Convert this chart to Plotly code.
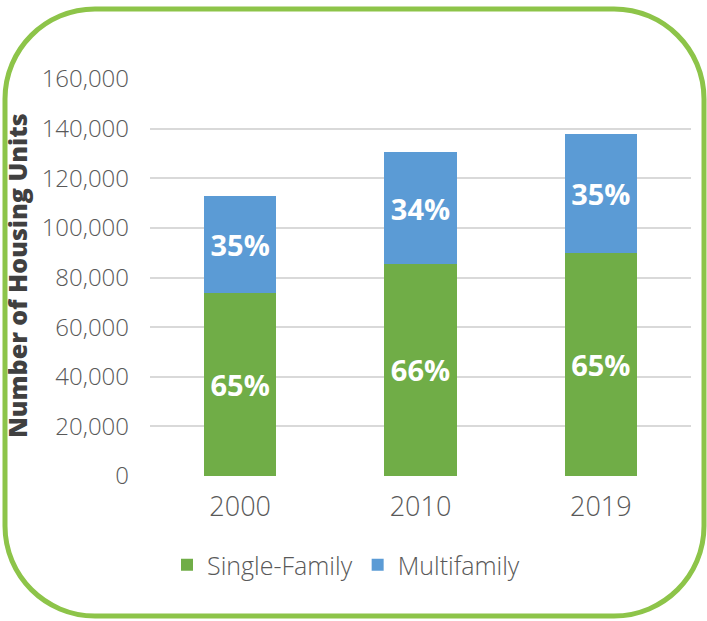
import plotly.graph_objects as go

# data
years = ["2000", "2010", "2019"]
single_family = [73700, 85500, 89800]
multifamily = [39200, 44900, 48200]
y_ticks = [0, 20000, 40000, 60000, 80000, 100000, 120000, 140000, 160000]

totals = [s + m for s, m in zip(single_family, multifamily)]
sf_pct = [f"{round(s / t * 100)}%" for s, t in zip(single_family, totals)]
mf_pct = [f"{round(m / t * 100)}%" for m, t in zip(multifamily, totals)]

W, H = 707, 621
L, R, T, B = 150, 16, 79, 145
pw, ph = W - L - R, H - T - B


def px(x):
    return (x - L) / pw


def py(y):
    return (H - B - y) / ph


FONT = "Open Sans"
label_font = dict(family=FONT, size=29, color="white", weight="bold")

fig = go.Figure()
fig.add_trace(go.Bar(name="Single-Family", x=years, y=single_family,
                     marker_color="#70ad47", marker_line_width=0,
                     text=sf_pct, textposition="inside", insidetextanchor="middle",
                     textfont=label_font, textangle=0, hoverinfo="skip"))
fig.add_trace(go.Bar(name="Multifamily", x=years, y=multifamily,
                     marker_color="#5b9bd5", marker_line_width=0,
                     text=mf_pct, textposition="inside", insidetextanchor="middle",
                     textfont=label_font, textangle=0, hoverinfo="skip"))

# rounded green frame around the whole chart
x0, x1, y0, y1, r = 5, 704, 9, 616, 90
k = 0.5523 * r
path = (
    f"M {px(x0 + r)},{py(y0)} L {px(x1 - r)},{py(y0)} "
    f"C {px(x1 - r + k)},{py(y0)} {px(x1)},{py(y0 + r - k)} {px(x1)},{py(y0 + r)} "
    f"L {px(x1)},{py(y1 - r)} "
    f"C {px(x1)},{py(y1 - r + k)} {px(x1 - r + k)},{py(y1)} {px(x1 - r)},{py(y1)} "
    f"L {px(x0 + r)},{py(y1)} "
    f"C {px(x0 + r - k)},{py(y1)} {px(x0)},{py(y1 - r + k)} {px(x0)},{py(y1 - r)} "
    f"L {px(x0)},{py(y0 + r)} "
    f"C {px(x0)},{py(y0 + r - k)} {px(x0 + r - k)},{py(y0)} {px(x0 + r)},{py(y0)} Z"
)

fig.update_layout(
    width=W, height=H,
    margin=dict(l=L, r=R, t=T, b=B, autoexpand=False),
    barmode="stack", bargap=0.6,
    paper_bgcolor="white", plot_bgcolor="white",
    font=dict(family=FONT, color="#595959", weight=300),
    showlegend=True,
    legend=dict(orientation="h", x=px(346), y=py(565), xanchor="center", yanchor="middle",
                font=dict(size=25, color="#595959", weight=300), itemwidth=30,
                traceorder="normal", bgcolor="rgba(0,0,0,0)"),
    xaxis=dict(showgrid=False, showline=False, ticks="",
               tickfont=dict(size=27, color="#595959", weight=300), ticklabelstandoff=12),
    yaxis=dict(range=[0, 160000], tickvals=y_ticks, tickformat=",",
               showgrid=True, gridcolor="#d9d9d9", gridwidth=2,
               zeroline=False, showline=False, ticks="",
               tickfont=dict(size=24, color="#595959", weight=300), ticklabelstandoff=20),
    shapes=[dict(type="path", xref="paper", yref="paper", path=path,
                 line=dict(color="#8dc449", width=5), layer="above")],
    annotations=[dict(text="Number of Housing Units", xref="paper", yref="paper",
                      x=px(17), y=py(276), textangle=-90, showarrow=False,
                      xanchor="center", yanchor="middle",
                      font=dict(family=FONT, size=25, color="#404040", weight=800))],
)

# the page's default body margin would push the chart 8px off the window
fig.write_html("out.html", config={"displayModeBar": False},
               post_script="document.body.style.margin='0';")
